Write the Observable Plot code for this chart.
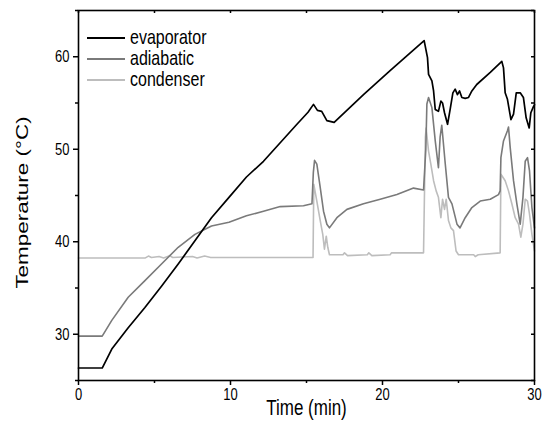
<!DOCTYPE html>
<html>
<head>
<meta charset="utf-8">
<script src="https://cdn.jsdelivr.net/npm/d3@7"></script>
<script src="https://cdn.jsdelivr.net/npm/@observablehq/plot@0.6"></script>
<style>
  html, body { margin: 0; padding: 0; background: #fff; }
  #wrap { position: relative; width: 543px; height: 434px; font-family: "Liberation Sans", Arial, sans-serif; }
  #legend { position: absolute; left: 87px; top: 27px; font-size: 16px; color: #000; }
  #legend .row { display: flex; align-items: center; height: 21px; }
  #legend .sw { width: 38px; height: 0; border-top: 2px solid; margin-right: 5px; }
  #legend .lb { display: inline-block; transform: scaleY(1.32); transform-origin: 50% 55%; }
</style>
</head>
<body>
<div id="wrap"><div id="legend"></div></div>
<script>
// ---- data ----
const seriesNames = ["evaporator", "adiabatic", "condenser"];
const seriesColors = ["#000000", "#7a7a7a", "#bdbdbd"];

const evapTime = [0, 1.56, 2.19, 3.27, 4.37, 5.46, 6.56, 7.66, 8.75, 9.9, 11.05, 12.17, 14.37, 15.1, 15.46, 15.72, 16.0, 16.34, 16.82, 18.75, 20.5, 22.74, 22.96, 23.03, 23.25, 23.36, 23.47, 23.68, 23.84, 23.95, 24.08, 24.28, 24.45, 24.63, 24.78, 24.93, 25.07, 25.22, 25.44, 25.66, 25.88, 26.2, 27.09, 27.85, 27.96, 28.07, 28.22, 28.45, 28.62, 28.8, 29.06, 29.27, 29.45, 29.65, 29.76, 29.93, 30.0];
const evapTemp = [26.35, 26.35, 28.4, 30.7, 32.9, 35.2, 37.6, 40.1, 42.6, 44.8, 47.0, 48.7, 52.7, 54.0, 54.85, 54.2, 54.1, 53.1, 52.9, 55.9, 58.5, 61.75, 59.9, 58.1, 57.4, 56.3, 54.3, 54.1, 55.2, 55.0, 53.95, 52.7, 54.3, 56.1, 56.5, 55.9, 56.3, 55.6, 55.5, 55.6, 56.3, 57.0, 58.3, 59.5, 58.8, 56.1, 55.4, 53.2, 53.8, 56.1, 56.1, 55.6, 53.4, 52.3, 53.95, 54.6, 54.8];

const adiaTime = [0, 1.56, 2.19, 3.27, 4.37, 5.46, 6.56, 7.66, 8.75, 9.9, 11.05, 12.17, 13.27, 14.8, 15.36, 15.45, 15.53, 15.68, 15.9, 16.12, 16.34, 16.51, 17.0, 17.66, 18.75, 19.85, 20.95, 22.04, 22.7, 22.85, 22.92, 23.03, 23.25, 23.47, 23.68, 23.79, 23.9, 24.13, 24.34, 24.57, 24.9, 25.1, 25.44, 25.88, 26.43, 27.09, 27.63, 27.74, 27.79, 27.96, 28.22, 28.29, 28.4, 28.62, 28.84, 29.06, 29.24, 29.39, 29.54, 29.67, 29.83, 30.0];
const adiaTemp = [29.8, 29.8, 31.5, 34.0, 35.8, 37.6, 39.4, 40.8, 41.7, 42.1, 42.8, 43.3, 43.8, 43.9, 44.1, 47.5, 48.8, 48.4, 45.9, 43.3, 41.9, 41.5, 42.6, 43.5, 44.1, 44.6, 45.1, 45.8, 45.6, 50.0, 54.9, 55.6, 54.5, 50.9, 48.0, 51.3, 52.6, 48.4, 44.8, 44.1, 41.9, 41.5, 42.6, 43.7, 44.4, 44.6, 45.1, 45.5, 49.1, 50.9, 52.0, 52.4, 50.2, 46.6, 44.1, 41.9, 44.8, 48.7, 49.1, 47.7, 43.7, 41.5];

const condTime = [0, 4.4, 4.6, 4.8, 5.3, 5.6, 6.0, 6.2, 7.5, 7.8, 8.3, 8.7, 15.43, 15.48, 15.68, 15.9, 16.07, 16.18, 16.3, 16.4, 16.51, 17.4, 17.5, 17.7, 19.0, 19.1, 19.3, 20.5, 20.6, 22.7, 22.82, 22.87, 23.03, 23.18, 23.36, 23.53, 23.68, 23.84, 23.95, 24.08, 24.19, 24.34, 24.5, 24.67, 24.84, 25.0, 26.0, 26.1, 26.3, 27.74, 27.79, 28.07, 28.29, 28.51, 28.73, 28.95, 29.1, 29.24, 29.39, 29.54, 29.67, 29.83, 30.0];
const condTemp = [38.25, 38.25, 38.45, 38.3, 38.4, 38.25, 38.5, 38.3, 38.4, 38.25, 38.45, 38.3, 38.3, 46.2, 44.4, 42.3, 40.8, 39.2, 40.6, 39.4, 38.6, 38.6, 38.8, 38.5, 38.6, 38.8, 38.5, 38.6, 38.8, 38.8, 51.3, 52.3, 49.8, 48.4, 46.6, 45.5, 44.8, 42.6, 44.6, 43.5, 44.6, 42.3, 41.5, 41.2, 39.0, 38.6, 38.6, 38.4, 38.6, 38.8, 47.3, 46.6, 45.5, 44.1, 42.6, 41.9, 40.5, 41.9, 44.6, 44.4, 43.0, 40.8, 39.0];

const xMajor = [0, 10, 20, 30];
const xMinor = [5, 15, 25];
const yMajor = [30, 40, 50, 60];
const yMinor = [25, 35, 45, 55, 65];
const xTitle = "Time (min)";
const yTitle = "Temperature (°C)";

// ---- build ----
const W = 543, H = 434;
const mL = 78, mR = 9, mT = 10, mB = 54;
const innerW = W - mL - mR, innerH = H - mT - mB;
const STRETCH = 1.32; // the reference text is vertically stretched

const toRows = (ts, vs) => ts.map((t, i) => ({t, v: vs[i]}));
const series = [toRows(evapTime, evapTemp), toRows(adiaTime, adiaTemp), toRows(condTime, condTemp)];

const chart = Plot.plot({
  width: W, height: H,
  marginLeft: mL, marginRight: mR, marginTop: mT, marginBottom: mB,
  style: {fontFamily: '"Liberation Sans", Arial, sans-serif', fontSize: "13px", color: "#000", background: "#fff"},
  x: {domain: [0, 30]},
  y: {domain: [25, 65]},
  marks: [
    Plot.line(series[2], {x: "t", y: "v", stroke: seriesColors[2], strokeWidth: 1.6}),
    Plot.line(series[1], {x: "t", y: "v", stroke: seriesColors[1], strokeWidth: 1.6}),
    Plot.line(series[0], {x: "t", y: "v", stroke: seriesColors[0], strokeWidth: 1.7}),
    Plot.frame({stroke: "#000", strokeWidth: 1.6}),
    Plot.axisX({ticks: xMajor, tickSize: 5, tickPadding: 2, strokeWidth: 1.5, fontSize: 13, label: null}),
    Plot.axisX({ticks: xMinor, tickSize: 3, strokeWidth: 1.5, tickFormat: () => "", label: null}),
    Plot.axisY({ticks: yMajor, tickSize: 5, tickPadding: 4, strokeWidth: 1.5, fontSize: 13, label: null}),
    Plot.axisY({ticks: yMinor, tickSize: 3, strokeWidth: 1.5, tickFormat: () => "", label: null}),
    Plot.tickX(xMajor.concat(xMinor), {x: d => d, stroke: "#000", strokeWidth: 1.5, insetBottom: innerH - 3}),
    Plot.tickY(yMajor.concat(yMinor), {y: d => d, stroke: "#000", strokeWidth: 1.5, insetLeft: innerW - 3}),
    Plot.text([xTitle], {text: d => d, frameAnchor: "bottom", textAnchor: "middle", lineAnchor: "middle", dy: 27, fontSize: 17}),
    Plot.text([yTitle], {text: d => d, frameAnchor: "left", textAnchor: "middle", lineAnchor: "middle", rotate: -90, dx: -56, dy: 7, fontSize: 17})
  ]
});

// vertical stretch of the text, like the reference
chart.querySelectorAll("text").forEach(t => {
  const tr = t.getAttribute("transform") || "";
  const rotated = /rotate/.test(tr);
  t.setAttribute("transform", tr + (rotated ? ` scale(${STRETCH},1)` : ` scale(1,${STRETCH})`));
});

const wrap = document.getElementById("wrap");
wrap.insertBefore(chart, wrap.firstChild);

const legend = document.getElementById("legend");
seriesNames.forEach((name, i) => {
  const row = document.createElement("div");
  row.className = "row";
  const sw = document.createElement("span");
  sw.className = "sw";
  sw.style.borderTopColor = seriesColors[i];
  const label = document.createElement("span");
  label.className = "lb";
  label.textContent = name;
  row.appendChild(sw);
  row.appendChild(label);
  legend.appendChild(row);
});
</script>
</body>
</html>
